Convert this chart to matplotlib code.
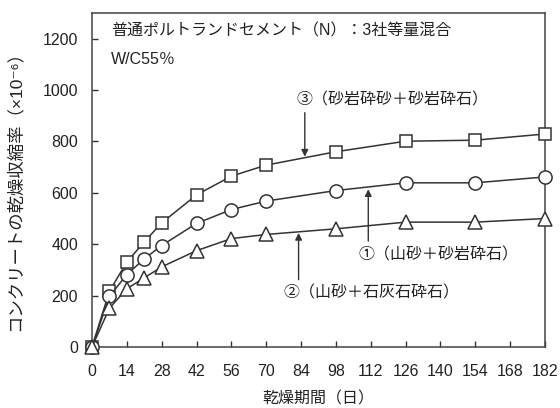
import numpy as np
import matplotlib.pyplot as plt

plt.rcParams['font.family'] = ['Liberation Sans', 'Noto Sans CJK JP', 'DejaVu Sans']

# drying period (days) and shrinkage strain (x10^-6)
days = [0, 7, 14, 21, 28, 42, 56, 70, 98, 126, 154, 182]
sandstone = [0, 217, 331, 409, 483, 592, 665, 708, 760, 801, 805, 829]   # ③
river_sand = [0, 197, 282, 343, 395, 481, 535, 568, 609, 639, 639, 662]  # ①
limestone = [0, 151, 227, 269, 312, 375, 422, 438, 460, 486, 486, 500]   # ②

xticks = list(range(0, 183, 14))
yticks = [0, 200, 400, 600, 800, 1000, 1200]

fig = plt.figure(figsize=(5.6, 4.08), dpi=100)
ax = fig.add_axes([92/560, 61/408, 453/560, 334/408])

style = dict(color='#333333', lw=1.1, mfc='white', mec='#333333', mew=1.1, clip_on=False, zorder=3)
ax.plot(days, sandstone, marker='s', ms=8.5, **style)
ax.plot(days, river_sand, marker='o', ms=9.5, **style)
ax.plot(days, limestone, marker='^', ms=9.5, **style)

ax.set_xlim(0, 182)
ax.set_ylim(0, 1300)
ax.set_xticks(xticks)
ax.set_yticks(yticks)
ax.tick_params(direction='in', length=4.5, width=1, labelsize=11.5, colors='#333333',
               labelcolor='#222222')
ax.tick_params(axis='x', pad=12)
ax.tick_params(axis='y', pad=10)
for sp in ax.spines.values():
    sp.set_color('#444444')
    sp.set_linewidth(1.1)

fs = 11.5
ax.set_xlabel('乾燥期間（日）', fontsize=fs, color='#222222', labelpad=9)
ax.set_ylabel('コンクリートの乾燥収縮率（×10⁻⁶）', fontsize=12.5, color='#222222')
ax.yaxis.set_label_coords(-0.154, 0.482)

ax.text(7.5, 1231, '普通ポルトランドセメント（N）：3社等量混合', fontsize=fs, color='#222222', va='center')
ax.text(7.5, 1118, 'W/C55％', fontsize=fs, color='#222222', va='center')

arrow = dict(arrowstyle='-|>', color='#333333', lw=1.0, mutation_scale=10, shrinkA=0, shrinkB=0)
ax.annotate('', xy=(85.5, 741), xytext=(85.5, 912), arrowprops=arrow)
ax.text(82, 962, '③（砂岩砕砂＋砂岩砕石）', fontsize=fs, color='#222222', va='center')

ax.annotate('', xy=(111, 614), xytext=(111, 412), arrowprops=arrow)
ax.text(107, 358, '①（山砂＋砂岩砕石）', fontsize=fs, color='#222222', va='center')

ax.annotate('', xy=(83, 444), xytext=(83, 262), arrowprops=arrow)
ax.text(77, 210, '②（山砂＋石灰石砕石）', fontsize=fs, color='#222222', va='center')

fig.savefig('out.png', dpi=100)
